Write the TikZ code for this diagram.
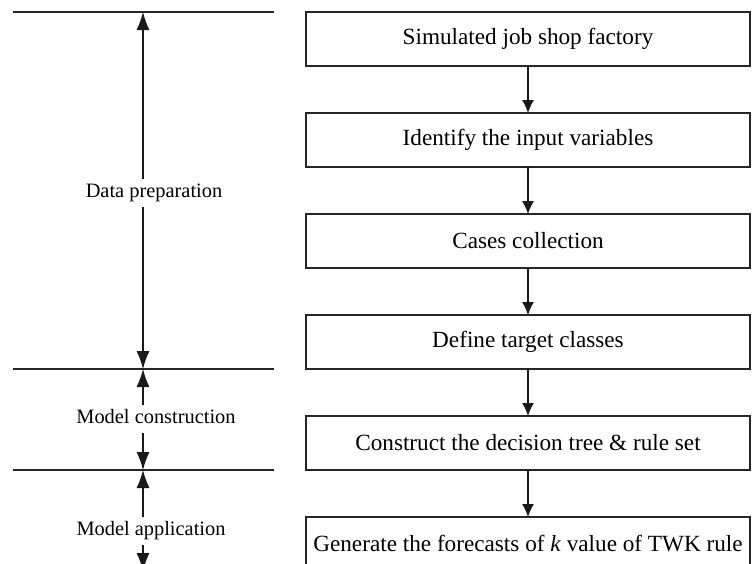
\documentclass[tikz,border=0pt]{standalone}
\usepackage{fontspec}
\setmainfont{Liberation Serif}
\usetikzlibrary{arrows.meta,positioning}
\tikzset{
  stagebox/.style={draw=black!85, line width=0.55pt, outer sep=0pt, minimum width=222pt, minimum height=27pt, inner sep=0pt, font=\fontsize{11.6}{13}\selectfont},
  phase/.style={font=\fontsize{10.2}{12}\selectfont, inner sep=2pt, text height=7pt, text depth=2.5pt},
  flow/.style={draw=black!90, line width=0.55pt, -{Latex[length=6.5pt,width=6pt]}},
  span/.style={draw=black!90, line width=0.55pt, -{Latex[length=9pt,width=6.5pt]}},
  divider/.style={draw=black!85, line width=0.55pt}
}
\begin{document}
\begin{tikzpicture}[x=0.5pt,y=-0.5pt]
\useasboundingbox (0,0) rectangle (752,564);
\clip (0,0) rectangle (752,564);
% stages of the flow
\node[stagebox] (factory) at (528,39) {Simulated job shop factory};
\node[stagebox, below=23.5pt of factory] (inputs) {Identify the input variables};
\node[stagebox, below=23.5pt of inputs] (cases) {Cases collection};
\node[stagebox, below=23.5pt of cases] (classes) {Define target classes};
\node[stagebox, below=23.5pt of classes] (tree) {Construct the decision tree \& rule set};
\node[stagebox, below=23.5pt of tree] (forecast) {Generate the forecasts of \textit{k} value of TWK rule};
\draw[flow] (factory) -- (inputs);
\draw[flow] (inputs) -- (cases);
\draw[flow] (cases) -- (classes);
\draw[flow] (classes) -- (tree);
\draw[flow] (tree) -- (forecast);
% phases on the left
\coordinate (top) at (143,0 |- factory.north);
\coordinate (mid) at (143,0 |- classes.south);
\coordinate (low) at (143,0 |- tree.south);
\coordinate (end) at (143,0 |- forecast.south);
\draw[divider] (13,0 |- top) -- (274,0 |- top);
\draw[divider] (13,0 |- mid) -- (274,0 |- mid);
\draw[divider] (13,0 |- low) -- (274,0 |- low);
\node[phase] (prep) at (154,193) {Data preparation};
\node[phase] (constr) at (156,419) {Model construction};
\node[phase] (appl) at (151,531) {Model application};
\draw[span] (prep.north -| top) -- (top);
\draw[span] (prep.south -| top) -- (mid);
\draw[span] (constr.north -| mid) -- (mid);
\draw[span] (constr.south -| mid) -- (low);
\draw[span] (appl.north -| low) -- (low);
\draw[span] (appl.south -| low) -- (end);
\end{tikzpicture}
\end{document}
